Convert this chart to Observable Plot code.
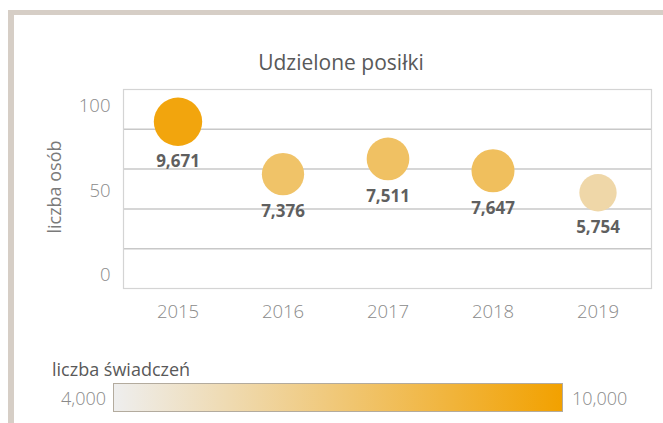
<!DOCTYPE html>
<html>
<head>
<meta charset="utf-8">
<script src="https://cdn.jsdelivr.net/npm/d3@7"></script>
<script src="https://cdn.jsdelivr.net/npm/@observablehq/plot@0.6"></script>
<style>
  html, body { margin: 0; padding: 0; background: #fff; }
  #wrap { position: relative; width: 663px; height: 423px; overflow: hidden; background: #fff; font-family: "Open Sans", sans-serif; }
  .border-top { position: absolute; left: 8px; top: 10px; right: 0; height: 5px; background: #d6cec6; }
  .border-left { position: absolute; left: 8px; top: 10px; bottom: 0; width: 6px; background: #d6cec6; }
  #chart { position: absolute; left: 0; top: 0; }
  #title { position: absolute; left: 191px; width: 300px; top: 49px; text-align: center; font-size: 21px; line-height: 26px; color: #595959; }
  #ylabel { position: absolute; left: -46px; top: 175px; width: 200px; height: 24px; line-height: 24px; text-align: center; font-size: 18px; color: #7a7a7a; transform: rotate(-90deg); transform-origin: 100px 12px; }
  #legend-title { position: absolute; left: 52px; top: 357px; font-size: 18px; line-height: 24px; color: #595959; }
  #legend-bar { position: absolute; left: 113px; top: 383px; width: 450px; height: 29px; box-sizing: border-box; border: 1px solid #b3ab9e; }
  .legend-val { position: absolute; top: 386px; font-size: 18px; line-height: 24px; color: #8a8a8a; font-weight: 300; }
  #legend-min { right: 557px; text-align: right; }
  #legend-max { left: 572px; }
</style>
</head>
<body>
<div id="wrap">
  <div class="border-top"></div>
  <div class="border-left"></div>
  <div id="chart"></div>
  <div id="title">Udzielone posiłki</div>
  <div id="ylabel">liczba osób</div>
  <div id="legend-title">liczba świadczeń</div>
  <div id="legend-bar"></div>
  <div class="legend-val" id="legend-min"></div>
  <div class="legend-val" id="legend-max"></div>
</div>
<script>
// ---- data ----
const years = ["2015", "2016", "2017", "2018", "2019"];
const persons = [91, 60, 69, 62, 49];          // liczba osób (y position)
const benefits = [9671, 7376, 7511, 7647, 5754]; // liczba świadczeń (size & colour)
const yTicks = [0, 50, 100];
const colorDomain = [4000, 10000];
const colorRange = ["#eeeeee", "#f2a100"];

const data = years.map((year, i) => ({year, persons: persons[i], benefits: benefits[i]}));

const yDomain = [-7.7, 110.1];
const rMax = 24.2;
const rDomain = [0, d3.max(benefits)];
const rOf = v => rMax * Math.sqrt(v / rDomain[1]);
const gridValues = d3.range(1, 5).map(i => yDomain[0] + i * (yDomain[1] - yDomain[0]) / 5);
const fmt = d3.format(",");

const plot = Plot.plot({
  width: 663,
  height: 330,
  marginTop: 89,
  marginBottom: 42,
  marginLeft: 123,
  marginRight: 12,
  style: {fontFamily: "Open Sans, sans-serif", fontSize: "18.5px", background: "transparent", overflow: "visible"},
  x: {type: "band", domain: years, padding: 0},
  y: {domain: yDomain},
  r: {domain: rDomain, range: [0, rMax]},
  color: {type: "linear", domain: colorDomain, range: colorRange, interpolate: "rgb"},
  marks: [
    Plot.ruleY(gridValues, {stroke: "#c8c8c8", strokeWidth: 1.5}),
    Plot.frame({stroke: "#d4d4d4", strokeWidth: 1.2}),
    Plot.axisX({tickSize: 0, tickPadding: 16, label: null, color: "#8a8a8a", fontWeight: 300}),
    Plot.axisY(yTicks, {tickSize: 0, tickPadding: 13, label: null, color: "#8a8a8a", fontWeight: 300}),
    Plot.dot(data, {x: "year", y: "persons", r: "benefits", fill: "benefits", stroke: null}),
    ...data.map(d => Plot.text([d], {
      x: "year", y: "persons", text: e => fmt(e.benefits),
      dy: rOf(d.benefits) + 16,
      fontSize: 17, fontWeight: "bold", fill: "#5f5f5f"
    }))
  ]
});
document.getElementById("chart").appendChild(plot);

document.getElementById("legend-bar").style.background =
  `linear-gradient(to right, ${colorRange[0]}, ${colorRange[1]})`;
document.getElementById("legend-min").textContent = fmt(colorDomain[0]);
document.getElementById("legend-max").textContent = fmt(colorDomain[1]);
</script>
</body>
</html>
